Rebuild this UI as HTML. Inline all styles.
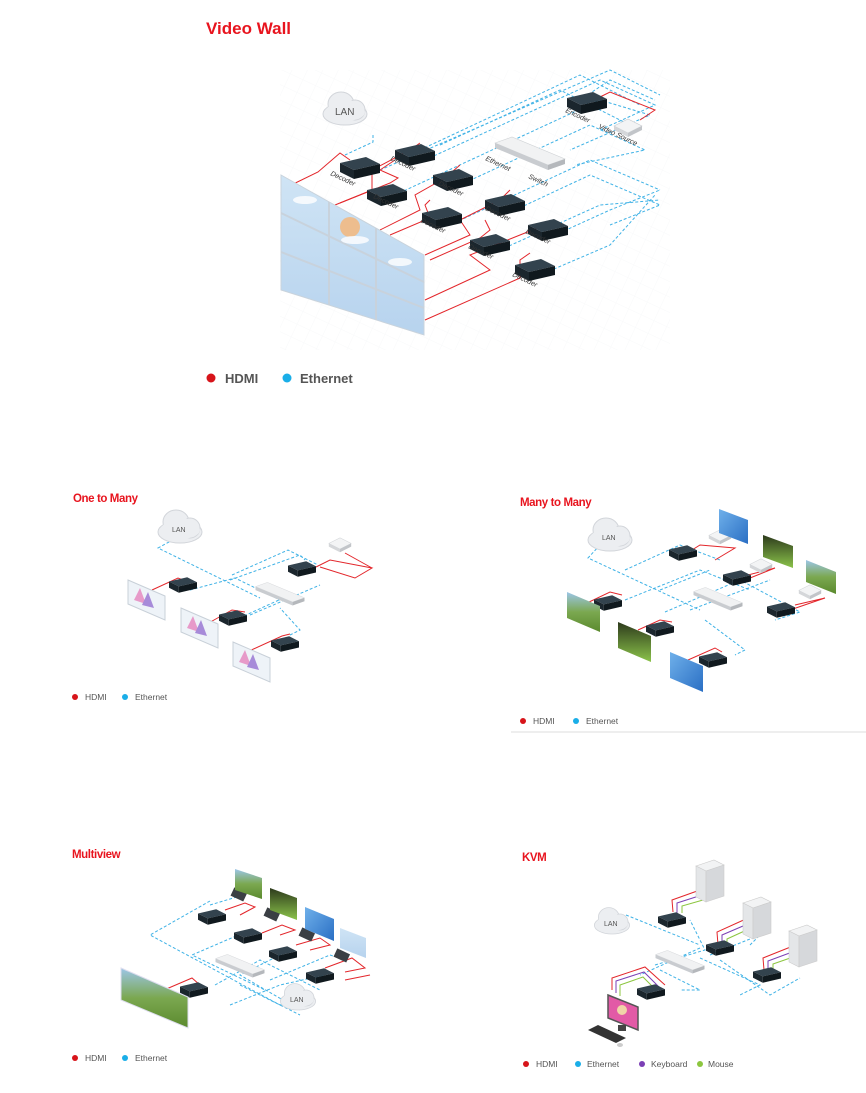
<!DOCTYPE html>
<html><head><meta charset="utf-8"><style>
html,body{margin:0;padding:0;background:#fff}
svg{display:block}
.t{font-family:"Liberation Sans",sans-serif;font-weight:bold;fill:#e8141e}
.lg{font-family:"Liberation Sans",sans-serif;fill:#555}
.lb{font-family:"Liberation Sans",sans-serif;font-style:italic;fill:#333}
.e{fill:none;stroke:#3fb2e6;stroke-dasharray:3 2;stroke-width:1}
.h{fill:none;stroke:#e3262b;stroke-width:1}
</style></head><body>
<svg width="866" height="1093" viewBox="0 0 866 1093" xmlns="http://www.w3.org/2000/svg">
<defs>
<g id="b">
<polygon points="-20,-5 6,-11 20,-4 -6,2" fill="#33434e"/>
<polygon points="-20,-5 -6,2 -6,11 -20,4" fill="#1b262d"/>
<polygon points="-6,2 20,-4 20,5 -6,11" fill="#10191e"/>
</g>
<g id="sw">
<polygon points="-35,-12 -18,-18 35,4 18,10" fill="#f1f2f3" stroke="#cfd2d5" stroke-width=".6"/>
<polygon points="-35,-12 18,10 18,15 -35,-7" fill="#c9ccd0"/>
<polygon points="18,10 35,4 35,9 18,15" fill="#b5b8bc"/>
</g>
<g id="cl">
<ellipse cx="0" cy="4" rx="22" ry="11" fill="#eceef1" stroke="#d2d5da"/>
<ellipse cx="-4" cy="-6" rx="13" ry="12" fill="#eceef1" stroke="#d2d5da"/>
<ellipse cx="10" cy="0" rx="10" ry="10" fill="#eceef1" stroke="#d2d5da"/>
<ellipse cx="0" cy="2" rx="20" ry="9" fill="#eceef1"/>
<ellipse cx="-4" cy="-5" rx="12" ry="10" fill="#eceef1"/>
</g>
<g id="vs">
<polygon points="-14,-2 0,-9 14,-2 0,5" fill="#f3f4f5" stroke="#c9ccd0" stroke-width=".6"/>
<polygon points="-14,-2 0,5 0,9 -14,2" fill="#d5d7da"/>
<polygon points="0,5 14,-2 14,2 0,9" fill="#c2c5c9"/>
</g>
<g id="pc">
<polygon points="-14,-24 4,-30 14,-25 -4,-19" fill="#f2f3f4" stroke="#ccc" stroke-width=".6"/>
<polygon points="-14,-24 -4,-19 -4,12 -14,7" fill="#e4e6e8" stroke="#ccc" stroke-width=".6"/>
<polygon points="-4,-19 14,-25 14,6 -4,12" fill="#d6d8db" stroke="#ccc" stroke-width=".6"/>
</g>
<linearGradient id="sky" x1="0" y1="0" x2="0" y2="1"><stop offset="0" stop-color="#cfe4f5"/><stop offset="1" stop-color="#b7d3ee"/></linearGradient>
<linearGradient id="grn" x1="0" y1="0" x2="0" y2="1"><stop offset="0" stop-color="#9cc6e8"/><stop offset=".5" stop-color="#7ba850"/><stop offset="1" stop-color="#5b8a2e"/></linearGradient>
<linearGradient id="dk" x1="0" y1="0" x2="0" y2="1"><stop offset="0" stop-color="#2d3a1c"/><stop offset="1" stop-color="#8bc34a"/></linearGradient>
<linearGradient id="bl" x1="0" y1="0" x2="1" y2="1"><stop offset="0" stop-color="#6fb0ea"/><stop offset="1" stop-color="#2a6fc4"/></linearGradient>
<pattern id="grid" width="14" height="14" patternUnits="userSpaceOnUse" patternTransform="rotate(25)"><path d="M0,0 L14,0 M0,0 L0,14" stroke="#f8f9fa" stroke-width="1"/></pattern>
</defs>

<rect x="280" y="70" width="390" height="280" fill="url(#grid)"/>

<!-- ===== VIDEO WALL ===== -->
<text class="t" x="206" y="34" font-size="17">Video Wall</text>
<g class="e">
<path d="M373,135 L373,142 L345,155"/>
<path d="M380,170 L610,70 L660,95"/>
<path d="M425,160 L600,80 L655,105 L600,130"/>
<path d="M395,195 L600,100 L650,115 L570,150"/>
<path d="M460,185 L590,125 L645,150 L575,165"/>
<path d="M450,225 L590,160 L660,190"/>
<path d="M515,210 L590,175 L660,205 L610,225"/>
<path d="M500,250 L600,205 L660,200"/>
<path d="M555,235 L610,210 L660,190"/>
<path d="M540,275 L610,245 L655,195"/>
<path d="M580,100 L610,80 L655,100"/>
<path d="M440,145 L560,90 L640,130"/>
<path d="M420,150 L580,75 L640,105"/>
</g>
<g class="h">
<path d="M281,190 L318,172 L340,153 L350,160"/>
<path d="M335,205 L372,190 L372,170 L410,150 L420,143"/>
<path d="M340,203 L390,183 L398,178 L380,170 L395,160"/>
<path d="M380,230 L420,210 L415,195 L445,178 L460,165"/>
<path d="M390,235 L430,218 L425,205 L430,200"/>
<path d="M425,255 L470,235 L460,220 L500,200 L510,190"/>
<path d="M430,260 L480,238 L490,230 L485,220"/>
<path d="M425,300 L490,270 L470,255 L520,235 L545,225"/>
<path d="M425,320 L520,278 L520,260 L530,253"/>
<path d="M600,97 L610,92 L655,110 L640,120"/>
</g>
<polygon points="281,175 424,255 424,335 281,290" fill="url(#sky)" stroke="#c9d3dc"/>
<path d="M281,213 L424,282 M281,252 L424,308 M329,202 L329,305 M376,228 L376,320" stroke="#c8d2dc" stroke-width="2" fill="none"/>
<circle cx="350" cy="227" r="10" fill="#f1b983" opacity=".9"/>
<ellipse cx="305" cy="200" rx="12" ry="4" fill="#fff" opacity=".8"/>
<ellipse cx="400" cy="262" rx="12" ry="4" fill="#fff" opacity=".8"/>
<ellipse cx="355" cy="240" rx="14" ry="4" fill="#fff" opacity=".8"/>
<use href="#cl" x="345" y="110"/>
<text class="lg" x="335" y="115" font-size="10" fill="#777">LAN</text>
<use href="#sw" x="530" y="155"/>
<text class="lb" x="485" y="160" font-size="7" transform="rotate(25 485 160)">Ethernet</text>
<text class="lb" x="528" y="178" font-size="7" transform="rotate(25 528 178)">Switch</text>
<use href="#b" x="360" y="168"/><text class="lb" x="330" y="175" font-size="7" transform="rotate(25 330 175)">Decoder</text>
<use href="#b" x="415" y="155"/><text class="lb" x="390" y="160" font-size="7" transform="rotate(25 390 160)">Decoder</text>
<use href="#b" x="387" y="195"/><text class="lb" x="373" y="198" font-size="7" transform="rotate(25 373 198)">Decoder</text>
<use href="#b" x="453" y="180"/><text class="lb" x="438" y="185" font-size="7" transform="rotate(25 438 185)">Decoder</text>
<use href="#b" x="442" y="218"/><text class="lb" x="420" y="222" font-size="7" transform="rotate(25 420 222)">Decoder</text>
<use href="#b" x="505" y="205"/><text class="lb" x="485" y="210" font-size="7" transform="rotate(25 485 210)">Decoder</text>
<use href="#b" x="490" y="245"/><text class="lb" x="468" y="248" font-size="7" transform="rotate(25 468 248)">Decoder</text>
<use href="#b" x="548" y="230"/><text class="lb" x="525" y="233" font-size="7" transform="rotate(25 525 233)">Decoder</text>
<use href="#b" x="535" y="270"/><text class="lb" x="512" y="276" font-size="7" transform="rotate(25 512 276)">Decoder</text>
<use href="#b" x="587" y="103"/><text class="lb" x="565" y="112" font-size="7" transform="rotate(25 565 112)">Encoder</text>
<use href="#vs" x="628" y="128"/><text class="lb" x="598" y="128" font-size="7" transform="rotate(25 598 128)">Video Source</text>
<circle cx="211" cy="378" r="4.5" fill="#d7141a"/><text class="lg" x="225" y="383" font-size="13" font-weight="bold">HDMI</text>
<circle cx="287" cy="378" r="4.5" fill="#1aaee8"/><text class="lg" x="300" y="383" font-size="13" font-weight="bold">Ethernet</text>

<!-- ===== ONE TO MANY ===== -->
<text class="t" x="73" y="502" font-size="11.5" letter-spacing="-.4">One to Many</text>
<g class="e">
<path d="M178,537 L158,548 L260,598"/>
<path d="M190,590 L235,578 L280,600"/>
<path d="M235,620 L290,595"/>
<path d="M290,635 L300,630 L280,608"/>
<path d="M232,575 L288,550 L318,565"/>
<path d="M230,580 L300,555 L305,560"/>
<path d="M250,615 L320,585"/>
</g>
<g class="h">
<path d="M152,590 L178,578 L188,582"/>
<path d="M205,625 L232,610 L245,612"/>
<path d="M247,652 L282,636 L290,634"/>
<path d="M316,567 L330,560 L372,568 L355,578 L320,567"/>
<path d="M345,553 L372,568"/>
</g>
<use href="#cl" x="180" y="528"/><text class="lg" x="172" y="532" font-size="7" fill="#888">LAN</text>
<use href="#sw" x="280" y="595" transform="translate(280 595) scale(.7) translate(-280 -595)"/>
<use href="#b" x="183" y="585" transform="translate(183 585) scale(.7) translate(-183 -585)"/>
<use href="#b" x="233" y="618" transform="translate(233 618) scale(.7) translate(-233 -618)"/>
<use href="#b" x="285" y="644" transform="translate(285 644) scale(.7) translate(-285 -644)"/>
<use href="#b" x="302" y="569" transform="translate(302 569) scale(.7) translate(-302 -569)"/>
<use href="#vs" x="340" y="545" transform="translate(340 545) scale(.8) translate(-340 -545)"/>
<g>
<polygon points="128,580 165,596 165,620 128,604" fill="#eef3f8" stroke="#c8d0d8"/>
<polygon points="181,608 218,624 218,648 181,632" fill="#eef3f8" stroke="#c8d0d8"/>
<polygon points="233,642 270,658 270,682 233,666" fill="#eef3f8" stroke="#c8d0d8"/>
<polygon points="134,600 140,588 146,604" fill="#e79ac9"/><polygon points="142,605 148,592 154,608" fill="#a78bd9"/>
<polygon points="187,628 193,616 199,632" fill="#e79ac9"/><polygon points="195,633 201,620 207,636" fill="#a78bd9"/>
<polygon points="239,662 245,650 251,666" fill="#e79ac9"/><polygon points="247,667 253,654 259,670" fill="#a78bd9"/>
</g>
<circle cx="75" cy="697" r="3" fill="#d7141a"/><text class="lg" x="85" y="700" font-size="8.5">HDMI</text>
<circle cx="125" cy="697" r="3" fill="#1aaee8"/><text class="lg" x="135" y="700" font-size="8.5">Ethernet</text>

<!-- ===== MANY TO MANY ===== -->
<text class="t" x="520" y="506" font-size="11.5" letter-spacing="-.4">Many to Many</text>
<g class="e">
<path d="M600,545 L588,558 L700,610"/>
<path d="M625,570 L680,545 L720,560"/>
<path d="M660,590 L710,570"/>
<path d="M665,612 L740,580 L800,612 L775,620"/>
<path d="M625,600 L700,570 L750,590"/>
<path d="M705,620 L745,650 L735,655"/>
<path d="M690,610 L770,580"/>
</g>
<g class="h">
<path d="M587,603 L610,592 L622,595"/>
<path d="M638,630 L660,620 L672,622"/>
<path d="M688,660 L715,648 L722,652"/>
<path d="M692,550 L700,545 L735,548 L715,560"/>
<path d="M748,575 L775,568 L745,580"/>
<path d="M795,605 L825,598 L790,610"/>
</g>
<use href="#cl" x="610" y="536"/><text class="lg" x="602" y="540" font-size="7" fill="#888">LAN</text>
<use href="#sw" x="718" y="600" transform="translate(718 600) scale(.7) translate(-718 -600)"/>
<use href="#b" x="608" y="603" transform="translate(608 603) scale(.7) translate(-608 -603)"/>
<use href="#b" x="660" y="629" transform="translate(660 629) scale(.7) translate(-660 -629)"/>
<use href="#b" x="713" y="660" transform="translate(713 660) scale(.7) translate(-713 -660)"/>
<use href="#b" x="683" y="553" transform="translate(683 553) scale(.7) translate(-683 -553)"/>
<use href="#b" x="737" y="578" transform="translate(737 578) scale(.7) translate(-737 -578)"/>
<use href="#b" x="781" y="610" transform="translate(781 610) scale(.7) translate(-781 -610)"/>
<use href="#vs" x="720" y="537" transform="translate(720 537) scale(.8) translate(-720 -537)"/>
<use href="#vs" x="761" y="566" transform="translate(761 566) scale(.8) translate(-761 -566)"/>
<use href="#vs" x="810" y="592" transform="translate(810 592) scale(.8) translate(-810 -592)"/>
<polygon points="719,509 748,520 748,544 719,533" fill="url(#bl)"/>
<polygon points="763,535 793,546 793,568 763,557" fill="url(#dk)"/>
<polygon points="806,560 836,572 836,594 806,582" fill="url(#grn)"/>
<polygon points="567,592 600,606 600,632 567,618" fill="url(#grn)"/>
<polygon points="618,622 651,636 651,662 618,648" fill="url(#dk)"/>
<polygon points="670,652 703,666 703,692 670,678" fill="url(#bl)"/>
<circle cx="523" cy="721" r="3" fill="#d7141a"/><text class="lg" x="533" y="724" font-size="8.5">HDMI</text>
<circle cx="576" cy="721" r="3" fill="#1aaee8"/><text class="lg" x="586" y="724" font-size="8.5">Ethernet</text>
<rect x="511" y="731" width="355" height="2" fill="#eeeeee"/>

<!-- ===== MULTIVIEW ===== -->
<text class="t" x="72" y="858" font-size="11.5" letter-spacing="-.4">Multiview</text>
<g class="e">
<path d="M210,901 L150,935 L280,1005 L310,995"/>
<path d="M250,930 L192,955 L265,990"/>
<path d="M290,950 L240,975 L300,1010"/>
<path d="M240,985 L300,1015"/>
<path d="M215,985 L260,960 L320,990"/>
<path d="M270,980 L330,955 L345,960"/>
<path d="M230,1005 L280,985 L325,975"/>
<path d="M210,905 L260,890 L240,880"/>
</g>
<g class="h">
<path d="M164,990 L192,978 L200,985"/>
<path d="M225,910 L245,903 L255,907 L240,915"/>
<path d="M262,933 L282,925 L295,930 L280,935"/>
<path d="M296,945 L320,938 L330,945 L310,950"/>
<path d="M325,968 L352,958 L365,968 L345,972"/>
<path d="M345,980 L370,975"/>
</g>
<use href="#sw" x="240" y="967" transform="translate(240 967) scale(.7) translate(-240 -967)"/>
<use href="#b" x="212" y="917" transform="translate(212 917) scale(.7) translate(-212 -917)"/>
<use href="#b" x="248" y="936" transform="translate(248 936) scale(.7) translate(-248 -936)"/>
<use href="#b" x="283" y="954" transform="translate(283 954) scale(.7) translate(-283 -954)"/>
<use href="#b" x="320" y="976" transform="translate(320 976) scale(.7) translate(-320 -976)"/>
<use href="#b" x="194" y="990" transform="translate(194 990) scale(.7) translate(-194 -990)"/>
<use href="#cl" x="298" y="998" transform="translate(298 998) scale(.8) translate(-298 -998)"/>
<text class="lg" x="290" y="1002" font-size="7" fill="#888">LAN</text>
<g fill="#3b3f44"><rect x="232" y="890" width="14" height="9" transform="rotate(25 239 894)"/><rect x="265" y="910" width="14" height="9" transform="rotate(25 272 914)"/><rect x="300" y="930" width="14" height="9" transform="rotate(25 307 934)"/><rect x="335" y="951" width="14" height="9" transform="rotate(25 342 955)"/></g>
<polygon points="235,869 262,878 262,899 235,890" fill="url(#grn)"/>
<polygon points="270,888 297,898 297,920 270,910" fill="url(#dk)"/>
<polygon points="305,907 334,919 334,941 305,929" fill="url(#bl)"/>
<polygon points="340,928 366,938 366,958 340,948" fill="url(#sky)"/>
<polygon points="121,968 188,997 188,1028 121,1000" fill="url(#grn)" stroke="#dde"/>
<circle cx="75" cy="1058" r="3" fill="#d7141a"/><text class="lg" x="85" y="1061" font-size="8.5">HDMI</text>
<circle cx="125" cy="1058" r="3" fill="#1aaee8"/><text class="lg" x="135" y="1061" font-size="8.5">Ethernet</text>

<!-- ===== KVM ===== -->
<text class="t" x="522" y="861" font-size="11.5" letter-spacing="-.4">KVM</text>
<g class="e">
<path d="M626,915 L700,945"/>
<path d="M700,948 L640,975"/>
<path d="M655,965 L705,950 L690,920"/>
<path d="M700,958 L760,985 L740,995"/>
<path d="M710,955 L760,935 L750,945"/>
<path d="M720,960 L770,995 L800,978"/>
<path d="M660,970 L700,990 L680,990"/>
</g>
<g fill="none" stroke-width="1">
<path d="M673,912 L672,900 L700,890" stroke="#e3262b"/><path d="M677,913 L677,903 L702,895" stroke="#7b3fb5"/><path d="M682,913 L682,906 L703,900" stroke="#8cc63f"/>
<path d="M718,945 L717,932 L748,918" stroke="#e3262b"/><path d="M722,946 L722,935 L750,923" stroke="#7b3fb5"/><path d="M727,946 L727,939 L751,928" stroke="#8cc63f"/>
<path d="M764,970 L763,958 L793,946" stroke="#e3262b"/><path d="M768,970 L768,961 L795,951" stroke="#7b3fb5"/><path d="M773,970 L773,964 L796,956" stroke="#8cc63f"/>
<path d="M612,990 L612,978 L645,967 L665,985" stroke="#e3262b"/><path d="M616,993 L616,981 L644,972 L660,988" stroke="#7b3fb5"/><path d="M620,996 L620,985 L643,977 L656,990" stroke="#8cc63f"/>
</g>
<use href="#pc" x="710" y="890"/>
<use href="#pc" x="757" y="927"/>
<use href="#pc" x="803" y="955"/>
<use href="#sw" x="680" y="963" transform="translate(680 963) scale(.7) translate(-680 -963)"/>
<use href="#b" x="672" y="920" transform="translate(672 920) scale(.7) translate(-672 -920)"/>
<use href="#b" x="720" y="948" transform="translate(720 948) scale(.7) translate(-720 -948)"/>
<use href="#b" x="767" y="975" transform="translate(767 975) scale(.7) translate(-767 -975)"/>
<use href="#b" x="651" y="992" transform="translate(651 992) scale(.7) translate(-651 -992)"/>
<use href="#cl" x="612" y="922" transform="translate(612 922) scale(.8) translate(-612 -922)"/>
<text class="lg" x="604" y="926" font-size="7" fill="#888">LAN</text>
<polygon points="608,995 638,1007 638,1030 608,1018" fill="#e25aa6" stroke="#555" stroke-width="1.5"/>
<circle cx="622" cy="1010" r="5" fill="#f0d4a8"/>
<rect x="618" y="1025" width="8" height="6" fill="#444"/>
<polygon points="598,1025 626,1038 616,1043 588,1030" fill="#333"/>
<ellipse cx="620" cy="1045" rx="3" ry="2" fill="#ccc"/>
<circle cx="526" cy="1064" r="3" fill="#d7141a"/><text class="lg" x="536" y="1067" font-size="8.5">HDMI</text>
<circle cx="578" cy="1064" r="3" fill="#1aaee8"/><text class="lg" x="587" y="1067" font-size="8.5">Ethernet</text>
<circle cx="642" cy="1064" r="3" fill="#7b3fb5"/><text class="lg" x="651" y="1067" font-size="8.5">Keyboard</text>
<circle cx="700" cy="1064" r="3" fill="#8cc63f"/><text class="lg" x="708" y="1067" font-size="8.5">Mouse</text>
</svg>
</body></html>
